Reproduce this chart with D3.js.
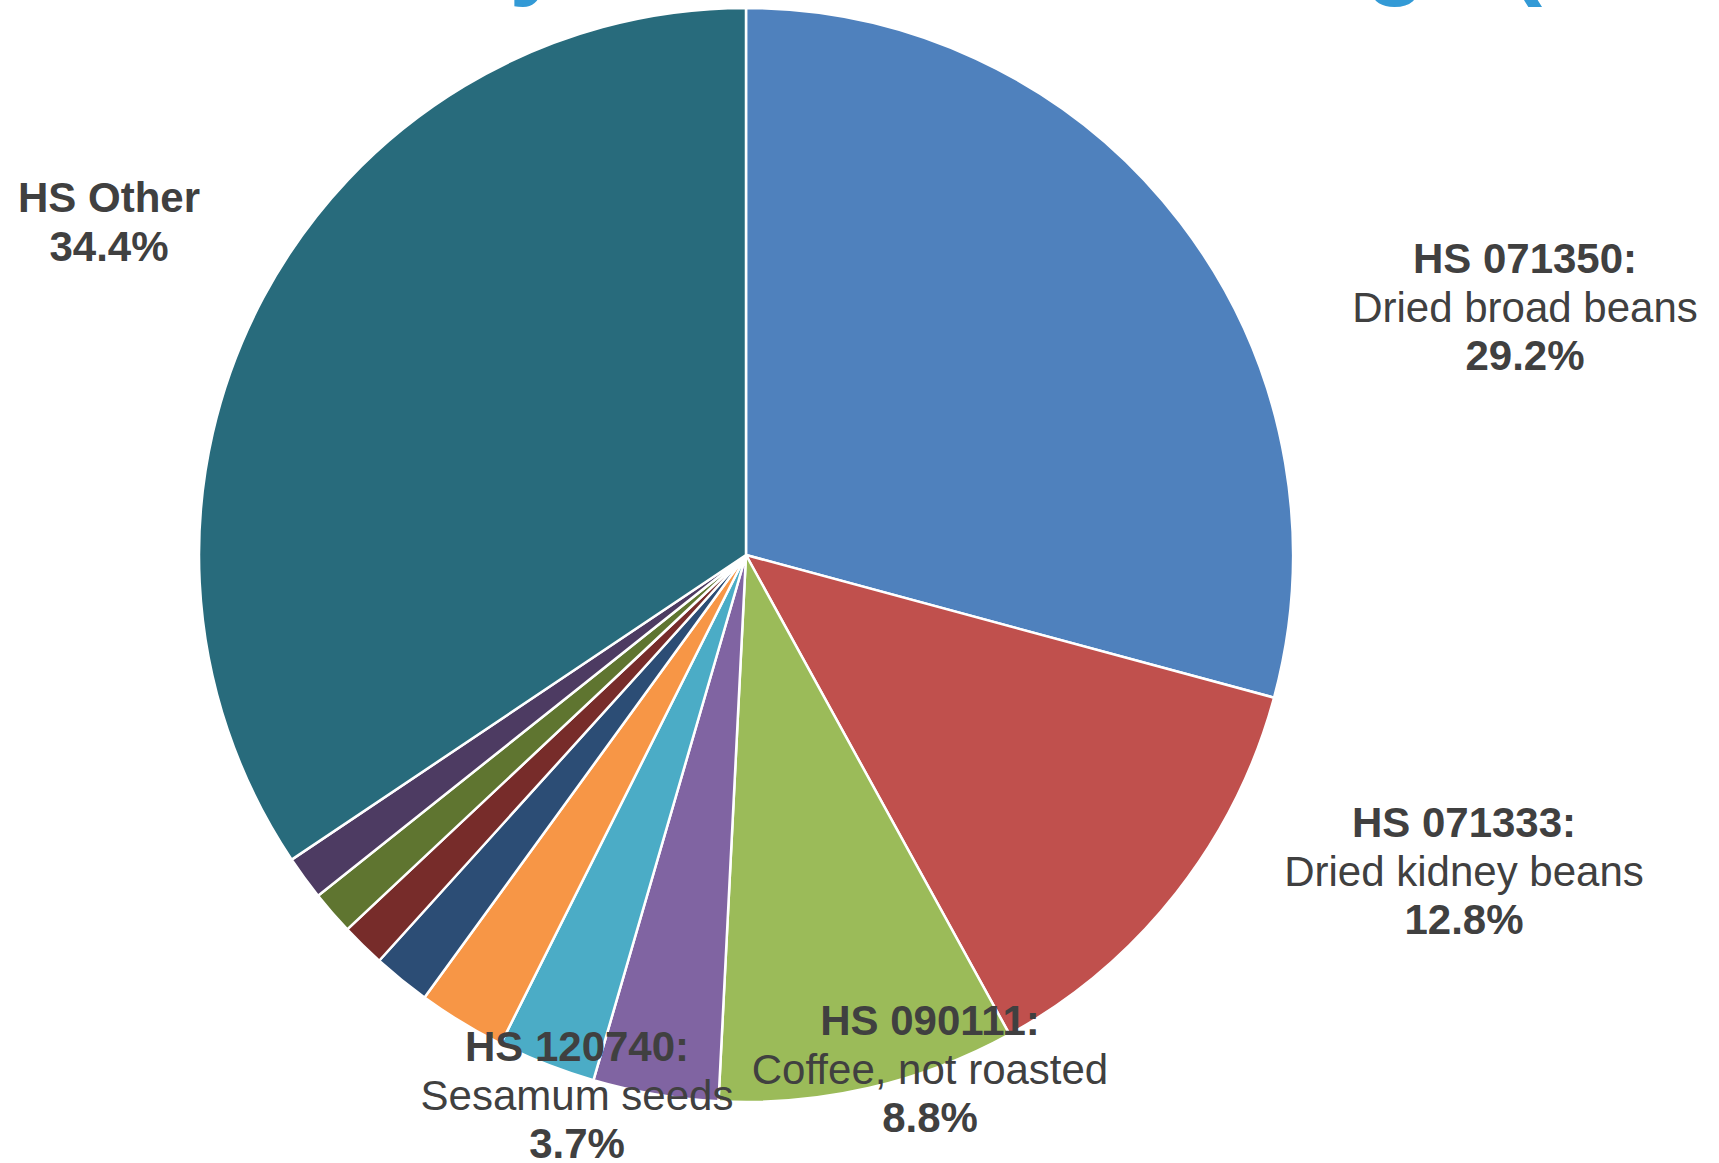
<!DOCTYPE html>
<html>
<head>
<meta charset="utf-8">
<script src="https://cdn.jsdelivr.net/npm/d3@7"></script>
<style>
  html, body { margin: 0; padding: 0; background: #ffffff; overflow: hidden; }
  svg { display: block; }
</style>
</head>
<body>
<svg id="chart" width="1719" height="1163"></svg>
<script>
// ---------------- DATA ----------------
const categories = [
  "HS 071350", "HS 071333", "HS 090111", "HS 120740",
  "Item 5", "Item 6", "Item 7", "Item 8", "Item 9", "Item 10",
  "HS Other"
];
const descriptions = [
  "Dried broad beans", "Dried kidney beans", "Coffee, not roasted", "Sesamum seeds",
  "", "", "", "", "", "",
  ""
];
const shares = [29.2, 12.8, 8.8, 3.7, 2.9, 2.6, 1.7, 1.3, 1.3, 1.3, 34.4];
const labelled = [true, true, true, true, false, false, false, false, false, false, true];
const titleText = "Trade Share by HS Code Headings (2023)";

// ---------------- STYLE / LAYOUT ----------------
const colors = ["#4F81BD", "#C0504D", "#9BBB59", "#8064A2", "#4BACC6", "#F79646",
                "#2C4D75", "#772C2A", "#5F7530", "#4D3B62", "#286B7C"];
const W = 1719, H = 1163;
const cx = 746, cy = 555, R = 547;
const lineH = 48.5;
// label anchor (centre x, first baseline y) for labelled slices, by index
const labelAnchor = {0: [1525, 273], 1: [1464, 837], 2: [930, 1035], 3: [577, 1061], 10: [109, 212]};

const svg = d3.select("#chart");

// Title (mostly above the visible area)
const title = svg.append("text")
  .attr("font-family", "Liberation Sans, Arial, sans-serif")
  .attr("font-weight", "bold")
  .attr("font-size", 100)
  .attr("fill", "#339AD6")
  .attr("x", 0).attr("y", 0)
  .text(titleText);
// fit so that the "y" of "by" and the "g" of "Headings" land where they are in the picture
(function fitTitle() {
  const node = title.node();
  const iy = titleText.indexOf("by") + 1;
  const ig = titleText.indexOf("Headings") + 6;
  const cxOf = i => node.getStartPositionOfChar(i).x + node.getExtentOfChar(i).width / 2;
  const yx = cxOf(iy), gx = cxOf(ig);
  const k = (1396 - 537) / (gx - yx);
  const fs = 100 * k;
  title.attr("font-size", fs)
       .attr("x", 537 - yx * k)
       .attr("y", 7 - 0.21 * fs);
})();

const data = categories.map((c, i) => ({
  cat: c, desc: descriptions[i], value: shares[i], color: colors[i], show: labelled[i], idx: i
}));

const pie = d3.pie().sort(null).value(d => d.value).startAngle(0).endAngle(2 * Math.PI);
const arc = d3.arc().innerRadius(0).outerRadius(R);

const g = svg.append("g").attr("transform", `translate(${cx},${cy})`);
g.selectAll("path")
  .data(pie(data))
  .join("path")
  .attr("d", arc)
  .attr("fill", d => d.data.color)
  .attr("stroke", "#ffffff")
  .attr("stroke-width", 2.5)
  .attr("stroke-linejoin", "round");

// Labels
const fmt = v => d3.format(".1f")(v) + "%";
const labels = svg.append("g")
  .attr("font-family", "Liberation Sans, Arial, sans-serif")
  .attr("font-size", 42)
  .attr("fill", "#404040")
  .attr("text-anchor", "middle");

data.filter(d => d.show).forEach(d => {
  const [lx, ly] = labelAnchor[d.idx];
  const t = labels.append("text").attr("x", lx).attr("y", ly);
  const lines = [];
  if (d.desc) {
    lines.push({ text: d.cat + ":", bold: true });
    lines.push({ text: d.desc, bold: false });
  } else {
    lines.push({ text: d.cat, bold: true });
  }
  lines.push({ text: fmt(d.value), bold: true });
  lines.forEach((ln, j) => {
    t.append("tspan")
      .attr("x", lx)
      .attr("dy", j === 0 ? 0 : lineH)
      .attr("font-weight", ln.bold ? "bold" : "normal")
      .text(ln.text);
  });
});
</script>
</body>
</html>
